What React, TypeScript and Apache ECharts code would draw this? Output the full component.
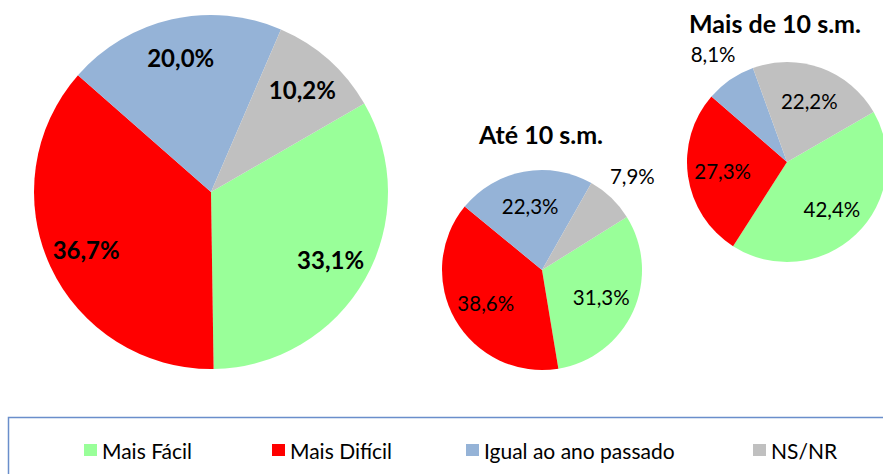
import React, { useEffect, useRef } from 'react';
import * as echarts from 'echarts';

// ---- data ----
const categories = ['Mais Fácil', 'Mais Difícil', 'Igual ao ano passado', 'NS/NR'];
const totalValues = [33.1, 36.7, 20.0, 10.2];
const ate10Values = [31.3, 38.6, 22.3, 7.9];
const mais10Values = [42.4, 27.3, 8.1, 22.2];
const pieTitles = ['Até 10 s.m.', 'Mais de 10 s.m.'];

// ---- styles / layout ----
const colors = ['#99FF99', '#FF0000', '#95B3D7', '#C0C0C0'];
const FONT = 'Lato, "Noto Sans", sans-serif';

const pies = [
  { values: totalValues, center: [211, 192], r: 177, start: 30, innerFrac: 0.52, outerFrac: 1.6, outside: [] as number[], fontSize: 24, bold: true },
  { values: ate10Values, center: [542, 270], r: 100, start: 32, innerFrac: 0.24, outerFrac: 1.55, outside: [3], fontSize: 20.5, bold: false },
  { values: mais10Values, center: [787, 162], r: 100, start: 30, innerFrac: 0.24, outerFrac: 1.55, outside: [2], fontSize: 20.5, bold: false },
];
const titlePos = [[541, 134], [775, 23]];
const legendLeft = [84, 272, 466, 753];

const fmt = (v: number) => v.toFixed(1).replace('.', ',') + '%';

function buildOption() {
  const series: any[] = [];
  pies.forEach((p, pi) => {
    const labelStyle = {
      fontFamily: FONT,
      fontSize: p.fontSize,
      fontWeight: p.bold ? 'bold' : 'normal',
      color: '#000',
      formatter: (prm: any) => fmt(prm.value),
    };
    // coloured pie
    series.push({
      type: 'pie',
      name: 'pie' + pi,
      center: p.center,
      radius: p.r,
      startAngle: p.start,
      clockwise: true,
      silent: true,
      label: { show: false },
      labelLine: { show: false },
      itemStyle: { borderWidth: 0 },
      data: categories.map((name, i) => ({ name, value: p.values[i], itemStyle: { color: colors[i] } })),
    });
    // inner label ring (transparent)
    series.push({
      type: 'pie',
      name: 'pieIn' + pi,
      center: p.center,
      radius: [p.r * p.innerFrac, p.r],
      startAngle: p.start,
      clockwise: true,
      silent: true,
      z: 5,
      avoidLabelOverlap: false,
      labelLine: { show: false },
      itemStyle: { color: 'transparent', borderWidth: 0 },
      data: categories.map((name, i) => ({
        name,
        value: p.values[i],
        label: { show: !p.outside.includes(i), position: 'inside', ...labelStyle },
      })),
    });
    // outer label ring (transparent)
    if (p.outside.length) {
      series.push({
        type: 'pie',
        name: 'pieOut' + pi,
        center: p.center,
        radius: [p.r, p.r * p.outerFrac],
        startAngle: p.start,
        clockwise: true,
        silent: true,
        z: 5,
        avoidLabelOverlap: false,
        labelLine: { show: false },
        itemStyle: { color: 'transparent', borderWidth: 0 },
        data: categories.map((name, i) => ({
          name,
          value: p.values[i],
          label: { show: p.outside.includes(i), position: 'inside', ...labelStyle },
        })),
      });
    }
  });

  const graphic: any[] = [
    {
      type: 'rect',
      z: 0,
      shape: { x: 8.5, y: 417.5, width: 900, height: 100 },
      style: { fill: 'none', stroke: '#6A8ECB', lineWidth: 1.5 },
      silent: true,
    },
    ...pieTitles.map((t, i) => ({
      type: 'text',
      x: titlePos[i][0],
      y: titlePos[i][1],
      style: {
        text: t,
        fontFamily: FONT,
        fontSize: 25,
        fontWeight: 'bold',
        fill: '#000',
        textAlign: 'center',
        textVerticalAlign: 'middle',
      },
    })),
  ];

  const legend = categories.map((name, i) => ({
    data: [{ name, itemStyle: { color: colors[i] } }],
    left: legendLeft[i],
    top: 439,
    padding: 0,
    icon: 'rect',
    itemWidth: 13,
    itemHeight: 12,
    selectedMode: false,
    textStyle: { fontFamily: FONT, fontSize: 21, color: '#000', lineHeight: 22 },
  }));

  return {
    animation: false,
    backgroundColor: '#fff',
    legend,
    graphic,
    series,
  };
}

export default function App() {
  const ref = useRef<HTMLDivElement>(null);
  useEffect(() => {
    if (!ref.current) return;
    const chart = echarts.init(ref.current, undefined, { renderer: 'svg' });
    chart.setOption(buildOption() as any);
    return () => chart.dispose();
  }, []);
  return (
    <div
      ref={ref}
      style={{ position: 'absolute', left: 0, top: 0, width: 883, height: 474, background: '#fff' }}
    />
  );
}
